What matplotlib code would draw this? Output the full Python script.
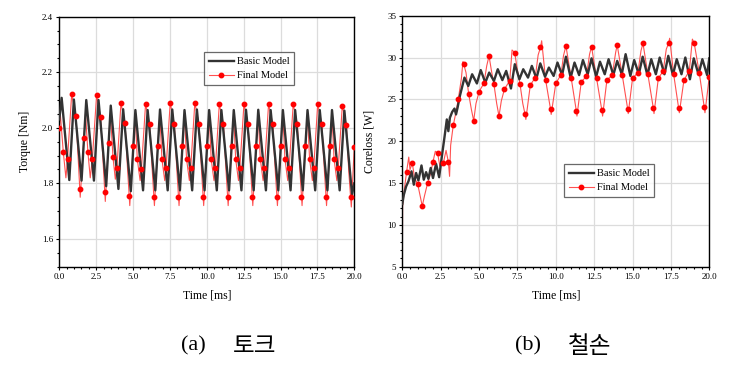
import matplotlib.pyplot as plt
from matplotlib.lines import Line2D

# ---------------- data ----------------
# (a) torque, basic model: peaks / troughs
tq_basic_t = [0.0, 0.16, 0.68, 0.99, 1.51, 1.83, 2.35, 2.66, 3.18, 3.49, 4.01, 4.33,
              4.85, 5.16, 5.68, 5.99, 6.51, 6.83, 7.35, 7.66, 8.18, 8.49, 9.01, 9.33,
              9.85, 10.16, 10.68, 10.99, 11.51, 11.83, 12.35, 12.66, 13.18, 13.49,
              14.01, 14.33, 14.85, 15.16, 15.68, 15.99, 16.51, 16.83, 17.35, 17.66,
              18.18, 18.49, 19.01, 19.33, 19.85, 20.0]
tq_basic_v = [2.03, 2.108, 1.812, 2.102, 1.81, 2.10, 1.81, 2.10, 1.79, 2.08, 1.78, 2.067,
              1.772, 2.064, 1.775, 2.064, 1.775, 2.066, 1.775, 2.066, 1.775, 2.064, 1.775, 2.066,
              1.775, 2.064, 1.775, 2.064, 1.775, 2.064, 1.775, 2.065, 1.775, 2.065,
              1.775, 2.064, 1.775, 2.064, 1.775, 2.064, 1.775, 2.064, 1.775, 2.064,
              1.775, 2.064, 1.775, 2.062, 1.76, 1.80]

# (a) torque, final model: thin line
tq_final_t = [0.0, 0.07, 0.27, 0.45, 0.56, 0.84, 1.13, 1.42, 1.67, 1.78, 1.94, 2.10, 2.24,
              2.53, 2.80, 3.12, 3.34, 3.47, 3.64, 3.80, 3.91,
              4.18, 4.46, 4.63, 4.78, 5.01, 5.15, 5.29, 5.48, 5.57,
              5.85, 6.13, 6.30, 6.45, 6.68, 6.82, 6.96, 7.15, 7.24,
              7.52, 7.80, 7.97, 8.12, 8.35, 8.49, 8.63, 8.82, 8.91,
              9.19, 9.47, 9.64, 9.79, 10.02, 10.16, 10.30, 10.49, 10.58,
              10.85, 11.13, 11.30, 11.45, 11.68, 11.82, 11.96, 12.15, 12.24,
              12.52, 12.80, 12.97, 13.12, 13.35, 13.49, 13.63, 13.82, 13.91,
              14.19, 14.47, 14.64, 14.79, 15.02, 15.16, 15.30, 15.49, 15.58,
              15.86, 16.14, 16.31, 16.46, 16.69, 16.83, 16.97, 17.16, 17.25,
              17.52, 17.80, 17.97, 18.12, 18.35, 18.49, 18.63, 18.82, 18.91,
              19.19, 19.47, 19.63, 19.80, 20.0]
tq_final_v = [2.00, 2.05, 1.914, 1.82, 1.889, 2.12, 2.043, 1.75, 1.962, 2.05, 1.913, 1.82, 1.887,
              2.117, 2.04, 1.735, 1.946, 2.05, 1.895, 1.815, 1.857,
              2.088, 2.017, 1.85, 1.72, 1.933, 2.045, 1.887, 1.81, 1.853,
              2.085, 2.014, 1.85, 1.72, 1.935, 2.045, 1.887, 1.81, 1.855,
              2.09, 2.014, 1.85, 1.72, 1.935, 2.045, 1.887, 1.81, 1.855,
              2.09, 2.014, 1.85, 1.72, 1.935, 2.045, 1.887, 1.81, 1.855,
              2.085, 2.014, 1.85, 1.72, 1.935, 2.045, 1.887, 1.81, 1.855,
              2.085, 2.014, 1.85, 1.72, 1.935, 2.045, 1.887, 1.81, 1.855,
              2.085, 2.014, 1.85, 1.72, 1.935, 2.045, 1.887, 1.81, 1.855,
              2.085, 2.014, 1.85, 1.72, 1.935, 2.045, 1.887, 1.81, 1.855,
              2.085, 2.014, 1.85, 1.72, 1.935, 2.045, 1.887, 1.81, 1.855,
              2.08, 2.01, 1.84, 1.715, 1.93]

# (a) torque, final model: markers
tq_mark_t = [0.0, 0.27, 0.56, 0.84, 1.13, 1.40, 1.67, 1.94, 2.24, 2.53, 2.80, 3.07, 3.34, 3.64, 3.91,
             4.18, 4.46, 4.74, 5.01, 5.29, 5.57, 5.85, 6.13, 6.41, 6.68, 6.96, 7.24,
             7.52, 7.80, 8.08, 8.35, 8.63, 8.91, 9.19, 9.47, 9.75, 10.02, 10.30, 10.58,
             10.85, 11.13, 11.41, 11.68, 11.96, 12.24, 12.52, 12.80, 13.08, 13.35, 13.63, 13.91,
             14.19, 14.47, 14.75, 15.02, 15.30, 15.58, 15.86, 16.14, 16.42, 16.69, 16.97, 17.25,
             17.52, 17.80, 18.08, 18.35, 18.63, 18.91, 19.19, 19.47, 19.75, 20.0]
tq_mark_v = [2.00, 1.914, 1.889, 2.12, 2.043, 1.78, 1.962, 1.913, 1.887, 2.117, 2.04, 1.77, 1.946, 1.895, 1.857,
             2.088, 2.017, 1.755, 1.933, 1.887, 1.853, 2.085, 2.014, 1.752, 1.935, 1.887, 1.855,
             2.09, 2.014, 1.752, 1.935, 1.887, 1.855, 2.09, 2.014, 1.752, 1.935, 1.887, 1.855,
             2.085, 2.014, 1.752, 1.935, 1.887, 1.855, 2.085, 2.014, 1.752, 1.935, 1.887, 1.855,
             2.085, 2.014, 1.752, 1.935, 1.887, 1.855, 2.085, 2.014, 1.752, 1.935, 1.887, 1.855,
             2.085, 2.014, 1.752, 1.935, 1.887, 1.855, 2.08, 2.01, 1.75, 1.93]

# (b) coreloss, basic model
cl_basic_t = [0.0, 0.1, 0.25, 0.4, 0.6, 0.75, 0.9, 1.05, 1.25, 1.4, 1.55, 1.7, 1.85, 2.0,
              2.2, 2.4, 2.6, 2.75, 2.9, 3.0, 3.1, 3.25, 3.4, 3.5, 3.6, 3.75, 3.9, 4.05,
              4.30, 4.55, 4.86, 5.11, 5.41, 5.66, 5.97, 6.22, 6.52, 6.77, 7.08, 7.33,
              7.63, 7.88, 8.19, 8.44, 8.74, 8.99, 9.30, 9.55, 9.86, 10.11, 10.41, 10.66,
              10.97, 11.22, 11.52, 11.77, 12.08, 12.33, 12.63, 12.88, 13.19, 13.44,
              13.75, 14.00, 14.30, 14.55, 14.86, 15.11, 15.41, 15.66, 15.97, 16.22,
              16.52, 16.77, 17.08, 17.33, 17.63, 17.88, 18.19, 18.44, 18.74, 18.99,
              19.30, 19.55, 19.86, 20.0]
cl_basic_v = [12.5, 13.6, 14.6, 15.2, 16.4, 14.8, 16.2, 15.3, 17.1, 15.4, 16.3, 15.5, 16.8, 15.6,
              17.3, 15.7, 18.5, 20.5, 22.6, 21.2, 22.8, 23.5, 23.9, 23.2, 24.0, 25.4, 26.5, 27.6,
              26.6, 28.0, 26.9, 28.5, 27.0, 28.2, 27.2, 28.6, 27.3, 28.4, 26.3, 29.2,
              27.4, 28.6, 27.6, 29.0, 27.5, 29.3, 27.7, 28.8, 27.8, 29.4, 27.9, 30.1,
              27.6, 29.4, 27.9, 29.7, 28.0, 29.9, 27.7, 29.5, 28.0, 29.8,
              27.9, 29.6, 28.0, 30.4, 27.8, 29.7, 28.0, 30.1, 27.9, 29.8,
              28.0, 30.0, 28.0, 30.2, 27.9, 29.8, 28.0, 30.0, 27.4, 29.9,
              28.0, 29.8, 27.9, 29.9]

# (b) coreloss, final model: thin line
cl_final_t = [0.0, 0.02, 0.15, 0.28, 0.42, 0.5, 0.65, 0.8, 1.0, 1.3, 1.45, 1.65, 1.85, 2.0,
              2.15, 2.3, 2.45, 2.67, 2.85, 3.0, 3.08, 3.15, 3.32, 3.5, 3.65, 3.85, 3.95, 4.0,
              4.15, 4.32, 4.5, 4.65, 4.8, 5.0, 5.15, 5.32, 5.5, 5.65, 5.8, 5.97, 6.15, 6.3,
              6.45, 6.65, 6.85, 7.0, 7.15, 7.32, 7.5, 7.67, 7.85, 8.0, 8.05, 8.34, 8.66,
              8.85, 9.0, 9.08, 9.34, 9.66, 9.7, 10.0, 10.34, 10.5, 10.66, 11.0, 11.34, 11.38,
              11.66, 12.0, 12.2, 12.33, 12.66, 13.0, 13.05, 13.33, 13.68, 13.9, 14.0, 14.33,
              14.68, 14.72, 15.0, 15.35, 15.55, 15.68, 16.0, 16.35, 16.4, 16.68, 17.0, 17.2,
              17.35, 17.42, 17.68, 18.0, 18.05, 18.35, 18.7, 18.9, 19.02, 19.35, 19.67, 19.72, 20.0]
cl_final_v = [5.0, 12.3, 14.5, 16.35, 18.1, 16.6, 17.4, 15.6, 14.9, 12.25, 13.5, 15.0, 16.2, 17.55,
              18.8, 18.55, 17.0, 17.35, 18.9, 17.55, 15.8, 19.5, 21.9, 23.5, 25.05, 27.5, 29.5, 29.2,
              28.2, 25.7, 23.8, 22.45, 24.5, 25.9, 26.4, 26.9, 29.0, 30.2, 28.5, 26.8, 24.5, 23.0,
              24.8, 26.2, 26.8, 27.2, 30.9, 30.6, 28.5, 26.8, 24.5, 23.2, 22.6, 26.7, 27.6,
              30.3, 31.2, 32.0, 27.3, 23.8, 23.2, 26.9, 27.95, 30.2, 31.4, 27.6, 23.6, 23.0,
              27.1, 27.75, 30.4, 31.3, 27.5, 23.7, 23.0, 27.3, 27.9, 30.6, 31.5, 27.9,
              23.9, 23.3, 27.5, 28.2, 30.8, 31.7, 28.0, 24.0, 23.3, 27.5, 28.4, 31.0,
              31.7, 32.3, 28.0, 24.0, 23.4, 27.3, 28.4, 32.2, 31.7, 28.15, 24.1, 23.4, 27.7]

# (b) coreloss, final model: markers
cl_mark_t = [0.28, 0.65, 1.0, 1.3, 1.65, 2.0, 2.3, 2.67, 3.0, 3.32, 3.65, 4.0, 4.32, 4.65, 5.0,
             5.32, 5.65, 5.97, 6.3, 6.65, 7.0, 7.32, 7.67, 8.0, 8.34, 8.66, 9.0, 9.34, 9.66,
             10.0, 10.34, 10.66, 11.0, 11.34, 11.66, 12.0, 12.33, 12.66, 13.0, 13.33, 13.68,
             14.0, 14.33, 14.68, 15.0, 15.35, 15.68, 16.0, 16.35, 16.68, 17.0, 17.35, 17.68,
             18.0, 18.35, 18.7, 19.02, 19.35, 19.67, 20.0]
cl_mark_v = [16.35, 17.4, 14.9, 12.25, 15.0, 17.55, 18.55, 17.35, 17.55, 21.9, 25.05, 29.2, 25.7, 22.45, 25.9,
             26.9, 30.2, 26.8, 23.0, 26.2, 27.2, 30.6, 26.8, 23.2, 26.7, 27.6, 31.2, 27.3, 23.8,
             26.9, 27.95, 31.4, 27.6, 23.6, 27.1, 27.75, 31.3, 27.5, 23.7, 27.3, 27.9,
             31.5, 27.9, 23.9, 27.5, 28.2, 31.7, 28.0, 24.0, 27.5, 28.4, 31.7, 28.0,
             24.0, 27.3, 28.4, 31.7, 28.15, 24.1, 27.7]

x_ticks = [0, 2.5, 5, 7.5, 10, 12.5, 15, 17.5, 20]

# ---------------- figure ----------------
plt.rcParams['font.family'] = ['Liberation Serif', 'DejaVu Serif']
fig = plt.figure(figsize=(7.3, 3.69), dpi=100)
ax1 = fig.add_axes([0.0812, 0.2772, 0.4041, 0.6775])
ax2 = fig.add_axes([0.5511, 0.2772, 0.4205, 0.6803])

basic_c = '#333333'
red_line = '#ff5050'
red_mark = '#ff0000'


def style(ax):
    ax.set_xlim(0, 20)
    ax.set_xticks(x_ticks)
    ax.set_xticklabels(['%.1f' % x for x in x_ticks])
    ax.grid(True, color='#dcdcdc', lw=0.9)
    ax.set_axisbelow(True)
    ax.minorticks_on()
    ax.tick_params(which='both', direction='out', top=False, right=False, labelsize=6.5,
                   length=2.5, width=0.8, pad=2)
    ax.tick_params(which='minor', length=1.5)
    for s in ax.spines.values():
        s.set_linewidth(1.0)
    ax.set_xlabel('Time [ms]', fontsize=8.5, labelpad=6)


# (a) torque
ax1.plot(tq_final_t, tq_final_v, color=red_line, lw=0.8, zorder=2)
ax1.plot(tq_basic_t, tq_basic_v, color=basic_c, lw=1.7, zorder=3)
ax1.plot(tq_mark_t, tq_mark_v, ls='none', marker='o', ms=3.2, color=red_mark, zorder=4)
style(ax1)
ax1.set_ylim(1.5, 2.4)
ax1.set_yticks([1.6, 1.8, 2.0, 2.2, 2.4])
ax1.set_ylabel('Torque [Nm]', fontsize=8.5, labelpad=8)

# (b) coreloss
ax2.plot(cl_final_t, cl_final_v, color=red_line, lw=0.8, zorder=2)
ax2.plot(cl_basic_t, cl_basic_v, color=basic_c, lw=1.7, zorder=3)
ax2.plot(cl_mark_t, cl_mark_v, ls='none', marker='o', ms=3.2, color=red_mark, zorder=4)
style(ax2)
ax2.set_ylim(5, 35)
ax2.set_yticks([5, 10, 15, 20, 25, 30, 35])
ax2.set_ylabel('Coreloss [W]', fontsize=8.5, labelpad=8)

handles = [Line2D([], [], color=basic_c, lw=1.7),
           Line2D([], [], color=red_line, lw=0.8, marker='o', ms=3.2,
                  markerfacecolor=red_mark, markeredgecolor=red_mark)]
labels = ['Basic Model', 'Final Model']
for ax, loc in [(ax1, (0.49, 0.727)), (ax2, (0.527, 0.278))]:
    leg = ax.legend(handles, labels, loc='lower left', bbox_to_anchor=loc, fontsize=7.5,
                    frameon=True, fancybox=False, edgecolor='#444444', borderpad=0.45,
                    handlelength=2.4, handletextpad=0.3, labelspacing=0.45, borderaxespad=0)
    leg.get_frame().set_linewidth(0.9)

# captions below the panels
fig.text(181 / 730, 0.062, '(a)', ha='left', va='center', fontsize=16,
         family=['Liberation Serif'])
fig.text(233 / 730, 0.062, '토크', ha='left', va='center', fontsize=17,
         family=['Noto Sans CJK KR'], fontweight='light')
fig.text(515 / 730, 0.062, '(b)', ha='left', va='center', fontsize=16,
         family=['Liberation Serif'])
fig.text(568 / 730, 0.062, '철손', ha='left', va='center', fontsize=17,
         family=['Noto Sans CJK KR'], fontweight='light')

fig.savefig('out.png', dpi=100)
